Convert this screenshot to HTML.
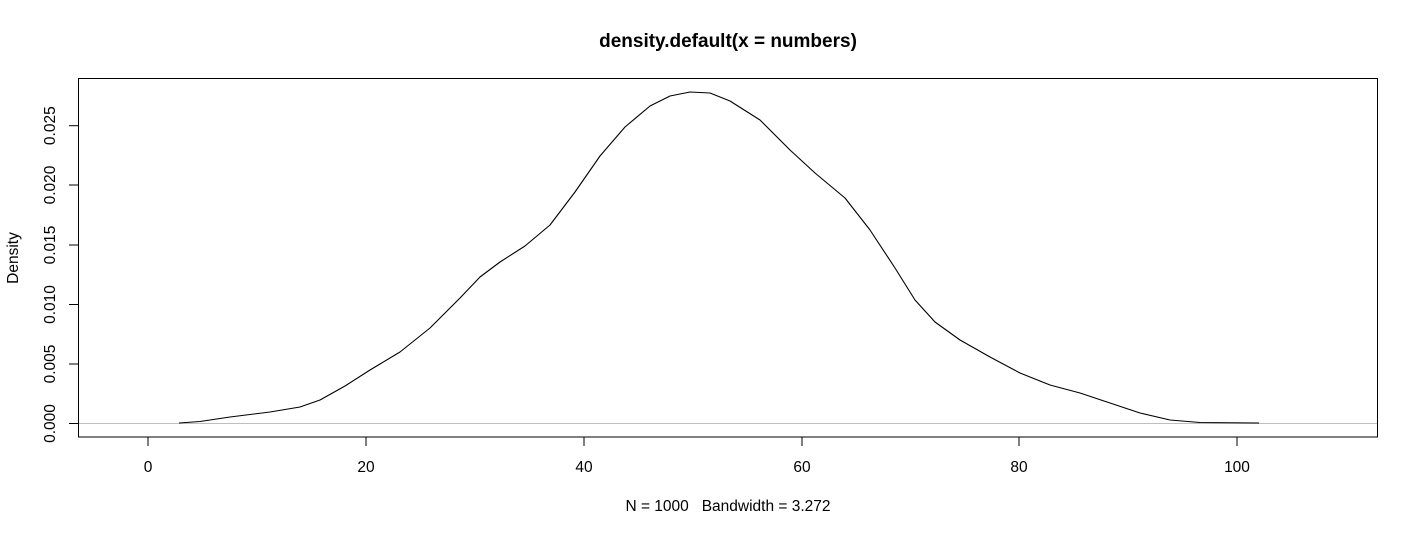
<!DOCTYPE html>
<html><head><meta charset="utf-8"><style>
html,body{margin:0;padding:0;background:#fff;}
svg{display:block;font-family:"Liberation Sans",Arial,sans-serif;}
</style></head><body>
<svg width="1418" height="535" viewBox="0 0 1418 535">
<text x="728" y="47" text-anchor="middle" font-size="19" font-weight="bold">density.default(x = numbers)</text>
<line x1="78" y1="423.5" x2="1378" y2="423.5" stroke="#bebebe" stroke-width="1"/>
<rect x="78.5" y="78.5" width="1299" height="358.5" fill="none" stroke="#000" stroke-width="1"/>
<g stroke="#000" stroke-width="1">
<line x1="148" y1="437" x2="148" y2="446"/><line x1="366" y1="437" x2="366" y2="446"/><line x1="584" y1="437" x2="584" y2="446"/><line x1="802" y1="437" x2="802" y2="446"/><line x1="1019" y1="437" x2="1019" y2="446"/><line x1="1237" y1="437" x2="1237" y2="446"/>
<line x1="69" y1="423.5" x2="78" y2="423.5"/><line x1="69" y1="364" x2="78" y2="364"/><line x1="69" y1="304.5" x2="78" y2="304.5"/><line x1="69" y1="245" x2="78" y2="245"/><line x1="69" y1="185" x2="78" y2="185"/><line x1="69" y1="125.7" x2="78" y2="125.7"/>
</g>
<g font-size="15.5" text-anchor="middle">
<text x="148" y="472">0</text><text x="366" y="472">20</text><text x="584" y="472">40</text><text x="802" y="472">60</text><text x="1019" y="472">80</text><text x="1237" y="472">100</text>
<text x="728" y="511" xml:space="preserve" style="white-space:pre">N = 1000   Bandwidth = 3.272</text>
</g>
<g font-size="15.5" text-anchor="middle">
<text transform="translate(55,423.5) rotate(-90)">0.000</text>
<text transform="translate(55,364) rotate(-90)">0.005</text>
<text transform="translate(55,304.5) rotate(-90)">0.010</text>
<text transform="translate(55,245) rotate(-90)">0.015</text>
<text transform="translate(55,185) rotate(-90)">0.020</text>
<text transform="translate(55,125.7) rotate(-90)">0.025</text>
<text transform="translate(18,258) rotate(-90)">Density</text>
</g>
<polyline fill="none" stroke="#000" stroke-width="1.1" stroke-linejoin="round" points="179,423 200,421.5 230,417 270,412 300,407 320,400 345,386 370,370 400,352 430,328 460,298 480,277 500,262 525,246 550,225 575,192 600,156 625,127 650,106 670,96 690,92 710,93 730,101 760,120 790,150 815,173 845,198 870,230 895,268 915,300 935,322 960,340 990,357 1020,373 1050,385 1080,393 1110,403 1140,413 1170,420 1200,422.5 1259,423"/>
</svg>
</body></html>
